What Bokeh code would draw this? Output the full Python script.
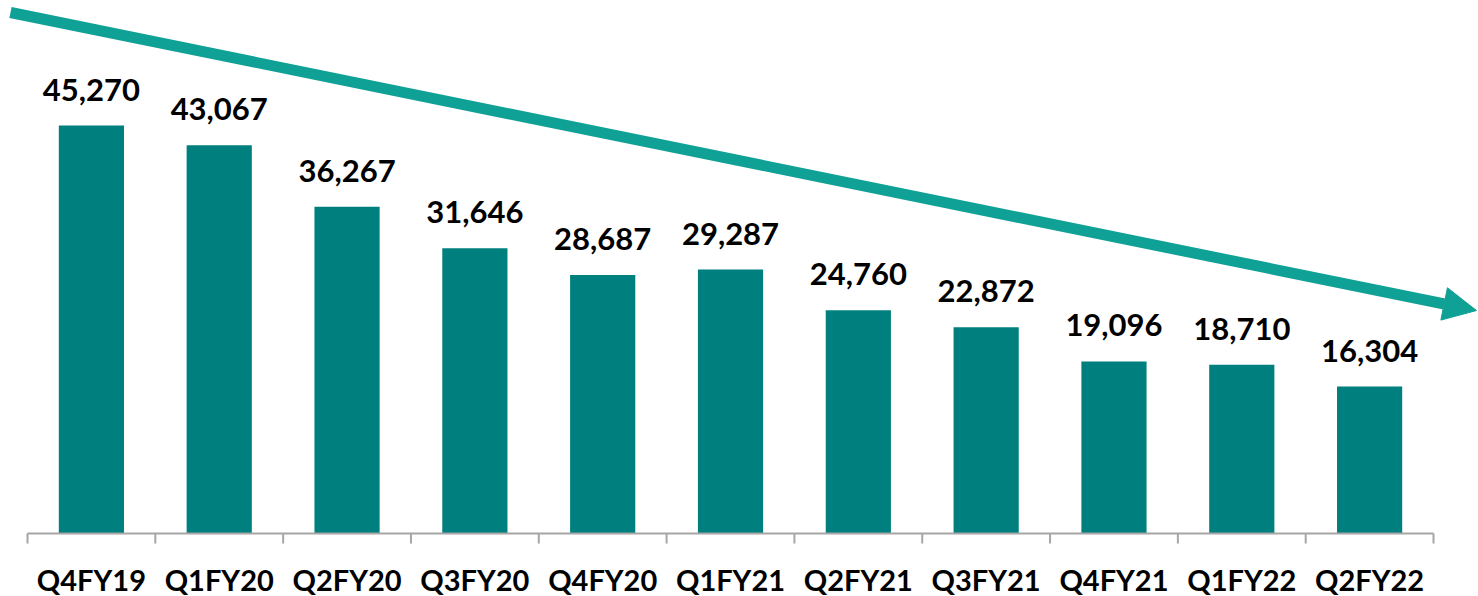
from bokeh.plotting import figure
from bokeh.models import ColumnDataSource, Range1d, LabelSet, Arrow, NormalHead
from bokeh.core.properties import value
from bokeh.embed import file_html
from bokeh.resources import INLINE

quarters = ["Q4FY19", "Q1FY20", "Q2FY20", "Q3FY20", "Q4FY20", "Q1FY21",
            "Q2FY21", "Q3FY21", "Q4FY21", "Q1FY22", "Q2FY22"]
values = [45270, 43067, 36267, 31646, 28687, 29287, 24760, 22872, 19096, 18710, 16304]

n = len(quarters)
centers = [i + 0.5 for i in range(n)]
bounds = list(range(n + 1))
labels = [f"{v:,}" for v in values]

# pixel scales used to place decorations
PX_X = 127.82          # px per category
PX_Y = 408 / 45270     # px per unit value
W, H = 1478, 596
X0, Y0 = 27, 533       # pixel position of the axis origin

src = ColumnDataSource(dict(x=centers, top=values, label=labels))
cat_src = ColumnDataSource(dict(x=centers, y=[-57 / PX_Y] * n, q=quarters))

p = figure(width=W, height=H, output_backend="svg", toolbar_location=None,
           x_range=Range1d(-X0 / PX_X, (W - X0) / PX_X),
           y_range=Range1d((Y0 - H) / PX_Y, Y0 / PX_Y),
           min_border=0, x_axis_location=None, y_axis_location=None)
p.outline_line_color = None
p.xgrid.visible = False
p.ygrid.visible = False
p.background_fill_color = "white"
p.border_fill_color = "white"

p.vbar(x="x", top="top", width=0.51, bottom=0, source=src,
       fill_color="#007F7F", line_color=None)

axis_color = "#A6A6A6"
# baseline
p.segment(x0=[0], y0=[0], x1=[n], y1=[0], line_color=axis_color, line_width=2)
# tick marks at category boundaries
p.segment(x0=bounds, y0=[0] * len(bounds), x1=bounds, y1=[-10 / PX_Y] * len(bounds),
          line_color=axis_color, line_width=2)

# category labels
cat_lbl = LabelSet(x="x", y="y", text="q", source=cat_src,
                   text_align="center", text_baseline="alphabetic",
                   text_font=value("Lato"), text_font_style="bold",
                   text_font_size="29px", text_color="black")
p.add_layout(cat_lbl)

lbl = LabelSet(x="x", y="top", text="label", source=src, y_offset=25,
               text_align="center", text_baseline="alphabetic",
               text_font=value("Lato"), text_font_style="bold", text_font_size="31px",
               text_color="black")
p.add_layout(lbl)

arrow_color = "#10A196"
arr = Arrow(x_start=-17 / PX_X, y_start=521 / PX_Y,
            x_end=1449 / PX_X, y_end=223 / PX_Y,
            line_color=arrow_color, line_width=11,
            end=NormalHead(size=33, fill_color=arrow_color, line_color=arrow_color))
p.add_layout(arr)

open("out.html", "w").write(file_html(p, INLINE))
